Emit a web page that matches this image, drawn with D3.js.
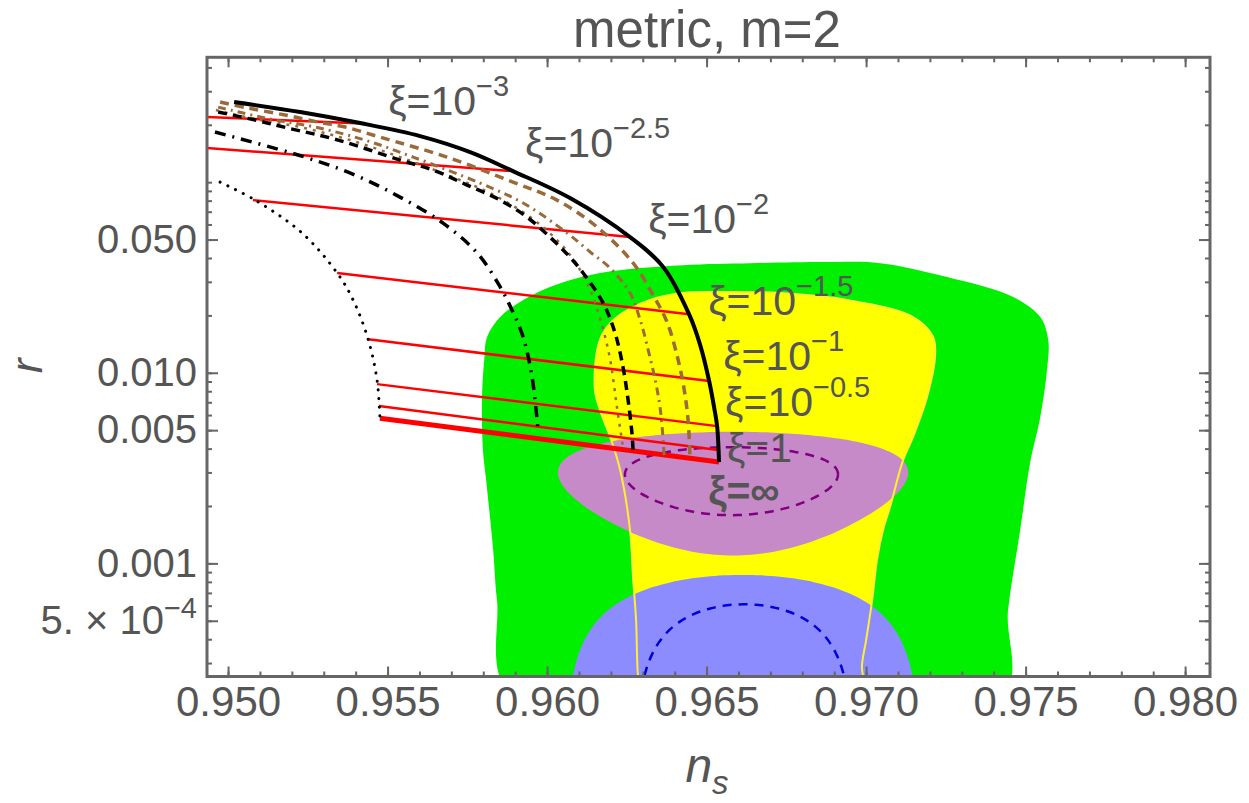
<!DOCTYPE html>
<html>
<head>
<meta charset="utf-8">
<script src="https://cdn.jsdelivr.net/npm/d3@7"></script>
<style>
body { margin: 0; background: #fff; }
text { font-family: "Liberation Sans", Arial, sans-serif; }
</style>
</head>
<body>
<svg id="chart" width="1249" height="803"></svg>
<script>
// constant-N curves (ns, r)
var dotNs = [0.94975, 0.95085, 0.95232, 0.95342, 0.95392, 0.95439, 0.95467, 0.95476];
var dotR  = [0.1001, 0.0805, 0.0541, 0.0334, 0.0241, 0.0150, 0.00916, 0.00578];

var dashDotNs = [0.94959, 0.95241, 0.95398, 0.95539, 0.95674, 0.95781, 0.95853, 0.95893, 0.95925, 0.95953, 0.95972];
var dashDotR  = [0.1832, 0.1354, 0.1090, 0.0835, 0.0610, 0.0425, 0.0282, 0.0208, 0.0154, 0.00949, 0.00494];

var dashNs = [0.94969, 0.95085, 0.95188, 0.95345, 0.95539, 0.95643, 0.95749, 0.95853, 0.95937, 0.96009, 0.96066, 0.96113, 0.96176, 0.96213, 0.96238, 0.96254, 0.96266, 0.96270];
var dashR  = [0.2333, 0.2118, 0.1922, 0.1663, 0.1306, 0.1157, 0.0966, 0.0805, 0.0656, 0.0515, 0.0414, 0.0334, 0.0232, 0.0162, 0.01071, 0.00719, 0.00483, 0.00384];

var brownDotNs = [0.94962, 0.95085, 0.95226, 0.95382, 0.95539, 0.95696, 0.95821, 0.95947, 0.96031, 0.96088, 0.96135, 0.96172, 0.96198, 0.96219, 0.96238];
var brownDotR  = [0.2389, 0.2143, 0.1946, 0.1663, 0.1354, 0.1076, 0.0877, 0.0656, 0.0497, 0.0381, 0.0272, 0.0178, 0.01166, 0.00661, 0.00408];

var brownDashDotNs = [0.94969, 0.95132, 0.95273, 0.95429, 0.95580, 0.95790, 0.95925, 0.96063, 0.96135, 0.96198, 0.96260, 0.96292, 0.96317, 0.96339, 0.96354, 0.96364, 0.96367];
var brownDashDotR  = [0.2477, 0.2143, 0.1946, 0.1663, 0.1354, 0.0989, 0.0777, 0.0541, 0.0430, 0.0354, 0.0262, 0.0189, 0.01315, 0.00916, 0.00661, 0.00443, 0.00366];

var brownDashNs = [0.94975, 0.95063, 0.95179, 0.95282, 0.95367, 0.95476, 0.95686, 0.95893, 0.96031, 0.96157, 0.96270, 0.96332, 0.96376, 0.96411, 0.96430, 0.96442, 0.96448];
var brownDashR  = [0.2632, 0.2447, 0.2250, 0.2067, 0.1946, 0.1724, 0.1354, 0.1001, 0.0805, 0.0581, 0.0376, 0.0256, 0.01845, 0.01166, 0.00811, 0.00565, 0.00361];

var solidNs = [0.95019, 0.95226, 0.95414, 0.95602, 0.95759, 0.95893, 0.96072, 0.96260, 0.96364, 0.96445, 0.96480, 0.96508, 0.96524, 0.96533, 0.96539];
var solidR  = [0.2632, 0.2333, 0.2042, 0.1745, 0.1438, 0.1143, 0.0825, 0.0515, 0.0359, 0.0203, 0.01397, 0.00905, 0.00653, 0.00525, 0.00340];

// constant-xi lines (from N=50 to N=60)
var xiBase = ["10", "10", "10", "10", "10", "10", "1", "\u221e"];
var xiSup  = ["\u22123", "\u22122.5", "\u22122", "\u22121.5", "\u22121", "\u22120.5", "", ""];
var xiLeftNs  = [0.9480, 0.9480, 0.95078, 0.95342, 0.95439, 0.95467, 0.95473, 0.95476];
var xiLeftR   = [0.2250, 0.1573, 0.0805, 0.0334, 0.0150, 0.00872, 0.00669, 0.00578];
var xiRightNs = [0.95420, 0.95893, 0.96260, 0.96445, 0.96508, 0.96533, 0.96536, 0.96539];
var xiRightR  = [0.2030, 0.1143, 0.0515, 0.0203, 0.00905, 0.00525, 0.00393, 0.00340];
var xiLabelNs = [0.95502, 0.95931, 0.96317, 0.96505, 0.96552, 0.96558, 0.96564, 0.96505];
var xiLabelR  = [0.2250, 0.1354, 0.0541, 0.02008, 0.01033, 0.00593, 0.00340, 0.00202];

// observational regions
var greenNs = [0.9589, 0.95843, 0.95831, 0.95809, 0.95799, 0.95796, 0.95803, 0.95812, 0.95853, 0.95915, 0.96009, 0.96166, 0.96426, 0.96636, 0.96887, 0.97044, 0.97254, 0.97461, 0.97546, 0.97571, 0.97567, 0.97546, 0.97514, 0.97483, 0.97445, 0.97425];
var greenR  = [0.0002, 0.000642, 0.001174, 0.002735, 0.00393, 0.00719, 0.01166, 0.0154, 0.0196, 0.0235, 0.0282, 0.0334, 0.0367, 0.0376, 0.0381, 0.0376, 0.0318, 0.0250, 0.0196, 0.01484, 0.01033, 0.00586, 0.00336, 0.001495, 0.000569, 0.0002];

var yellowNs = [0.96157, 0.96176, 0.96219, 0.96323, 0.96426, 0.96533, 0.96730, 0.96940, 0.97147, 0.97210, 0.97216, 0.97191, 0.97147, 0.97116, 0.97075, 0.97053, 0.97034, 0.97019, 0.97000, 0.96987, 0.96984, 0.96295, 0.96285, 0.96279, 0.96270, 0.96260, 0.96229, 0.96198, 0.96166, 0.96150];
var yellowR  = [0.01315, 0.0162, 0.0196, 0.0241, 0.0262, 0.0265, 0.0262, 0.0241, 0.0196, 0.0154, 0.01209, 0.00746, 0.0046, 0.00348, 0.001975, 0.001495, 0.00104, 0.000642, 0.000396, 0.000293, 0.0002, 0.0002, 0.000256, 0.000504, 0.000817, 0.001495, 0.00309, 0.0046, 0.00637, 0.00811];

// forecast ellipses: [centre ns, centre r, half width ns, half height r]
var purpleOuter = [0.96583, 0.0030, 0.00549, 0.0019];
var purpleInner = [0.96578, 0.00293, 0.00334, 0.00114];
var blueOuter   = [0.96613, 0.0, 0.00557, 0.00087];
var blueInner   = [0.96618, 0.0, 0.00345, 0.00061];

// ticks
var xMajor = [0.950, 0.955, 0.960, 0.965, 0.970, 0.975, 0.980];
var xTickLabels = ["0.950", "0.955", "0.960", "0.965", "0.970", "0.975", "0.980"];
var yMajor = [0.05, 0.01, 0.005, 0.001, 0.0005];
var yTickLabels = ["0.050", "0.010", "0.005", "0.001", "5. \u00d7 10"];

var zip = function (a, b) { return a.map(function (v, i) { return [v, b[i]]; }); };

var svg = d3.select("#chart");
var x = d3.scaleLinear().domain([0.94934, 0.98078]).range([207, 1210]);
var y = d3.scaleLog().domain([2.55e-4, 0.452]).range([676.5, 57.3]);

svg.append("defs").append("clipPath").attr("id", "plotclip")
  .append("rect").attr("x", 207).attr("y", 57.3).attr("width", 1003).attr("height", 619.2);

var plot = svg.append("g").attr("clip-path", "url(#plotclip)");

var smooth = d3.line().x(function (d) { return x(d[0]); }).y(function (d) { return y(Math.max(d[1], 1e-5)); })
  .curve(d3.curveCatmullRom.alpha(0.5));
var closedSmooth = d3.line().x(function (d) { return x(d[0]); }).y(function (d) { return y(d[1]); })
  .curve(d3.curveCatmullRomClosed.alpha(0.5));
var straight = d3.line().x(function (d) { return x(d[0]); }).y(function (d) { return y(d[1]); });

// ellipse outline in (ns, r)
function ellipse(e) {
  return d3.range(0, 361, 3).map(function (a) {
    var t = a * Math.PI / 180;
    return [e[0] + e[2] * Math.cos(t), Math.max(e[1] + e[3] * Math.sin(t), 1e-5)];
  });
}

plot.append("path").attr("d", closedSmooth(zip(greenNs, greenR))).attr("fill", "#00f000");
plot.append("path").attr("d", closedSmooth(zip(yellowNs, yellowR))).attr("fill", "#ffff00");
plot.append("path").attr("d", smooth(ellipse(purpleOuter)) + "Z").attr("fill", "#c68ac8");
plot.append("path").attr("d", smooth(ellipse(blueOuter)) + "Z").attr("fill", "#8c8cff");
plot.append("path").attr("d", closedSmooth(zip(yellowNs, yellowR)))
  .attr("fill", "none").attr("stroke", "#ffee33").attr("stroke-width", 2);
plot.append("path").attr("d", smooth(ellipse(purpleInner)))
  .attr("fill", "none").attr("stroke", "#800080").attr("stroke-width", 2.5).attr("stroke-dasharray", "9,7");
plot.append("path").attr("d", smooth(ellipse(blueInner)))
  .attr("fill", "none").attr("stroke", "#0000dd").attr("stroke-width", 2.5).attr("stroke-dasharray", "9,7");

// red constant-xi lines
xiLeftNs.forEach(function (v, i) {
  plot.append("path")
    .attr("d", straight([[v, xiLeftR[i]], [xiRightNs[i], xiRightR[i]]]))
    .attr("fill", "none").attr("stroke", "#ff0000")
    .attr("stroke-width", i === 7 ? 5 : 2.5);
});

var curves = [
  { ns: dotNs, r: dotR, color: "#000", w: 3, dash: "0.1,8.5", cap: "round" },
  { ns: dashDotNs, r: dashDotR, color: "#000", w: 3.5, dash: "11,7,2,7", cap: "butt" },
  { ns: brownDotNs, r: brownDotR, color: "#9a6a3a", w: 2.5, dash: "3,6", cap: "butt" },
  { ns: dashNs, r: dashR, color: "#000", w: 3.5, dash: "9,6", cap: "butt" },
  { ns: brownDashDotNs, r: brownDashDotR, color: "#9a6a3a", w: 3, dash: "8,5,2,5", cap: "butt" },
  { ns: brownDashNs, r: brownDashR, color: "#9a6a3a", w: 3.5, dash: "9,6", cap: "butt" },
  { ns: solidNs, r: solidR, color: "#000", w: 4, dash: null, cap: "butt" }
];
curves.forEach(function (c) {
  plot.append("path").attr("d", smooth(zip(c.ns, c.r)))
    .attr("fill", "none").attr("stroke", c.color).attr("stroke-width", c.w)
    .attr("stroke-dasharray", c.dash).attr("stroke-linecap", c.cap);
});

// xi labels
xiBase.forEach(function (b, i) {
  var t = svg.append("text").attr("x", x(xiLabelNs[i])).attr("y", y(xiLabelR[i]))
    .attr("fill", "#555").attr("font-size", 41)
    .attr("font-weight", i === 7 ? "bold" : "normal");
  t.append("tspan").text("\u03be=" + b);
  if (xiSup[i]) t.append("tspan").attr("dy", -19).attr("font-size", 29).text(xiSup[i]);
});

// frame and ticks
function styleAxis(g) {
  g.select(".domain").remove();
  g.selectAll(".tick line").attr("stroke", "#666").attr("stroke-width", 2);
  g.selectAll("text").attr("fill", "#555").attr("font-size", 40)
    .attr("font-family", "'Liberation Sans', Arial, sans-serif");
}
var xMinor = d3.range(0, 31).map(function (i) { return (950 + i) / 1000; });
var yMinor = [];
[1e-4, 1e-3, 1e-2, 1e-1].forEach(function (d) {
  d3.range(1, 10).forEach(function (k) {
    var v = k * d;
    if (v > 2.55e-4 && v < 0.452) yMinor.push(v);
  });
});

svg.append("g").attr("transform", "translate(0,676.5)")
  .call(d3.axisBottom(x).tickValues(xMinor).tickSize(-5).tickFormat("")).call(styleAxis);
var xAx = svg.append("g").attr("transform", "translate(0,676.5)")
  .call(d3.axisBottom(x).tickValues(xMajor).tickSize(-10).tickPadding(10)
    .tickFormat(function (d, i) { return xTickLabels[i]; })).call(styleAxis);
xAx.selectAll(".tick text").attr("font-size", 42);
svg.append("g").attr("transform", "translate(0,57.3)")
  .call(d3.axisTop(x).tickValues(xMinor).tickSize(-5).tickFormat("")).call(styleAxis);
svg.append("g").attr("transform", "translate(0,57.3)")
  .call(d3.axisTop(x).tickValues(xMajor).tickSize(-10).tickFormat("")).call(styleAxis);

svg.append("g").attr("transform", "translate(207,0)")
  .call(d3.axisLeft(y).tickValues(yMinor).tickSize(-5).tickFormat("")).call(styleAxis);
var yAx = svg.append("g").attr("transform", "translate(207,0)")
  .call(d3.axisLeft(y).tickValues(yMajor).tickSize(-11).tickPadding(10)
    .tickFormat(function (d, i) { return yTickLabels[i]; })).call(styleAxis);
yAx.selectAll(".tick text").filter(function (d, i) { return i === 4; })
  .append("tspan").attr("dy", -16).attr("font-size", 29).text("\u22124");
svg.append("g").attr("transform", "translate(1210,0)")
  .call(d3.axisRight(y).tickValues(yMinor).tickSize(-5).tickFormat("")).call(styleAxis);
svg.append("g").attr("transform", "translate(1210,0)")
  .call(d3.axisRight(y).tickValues(yMajor).tickSize(-11).tickFormat("")).call(styleAxis);

svg.append("rect").attr("x", 207).attr("y", 57.3).attr("width", 1003).attr("height", 619.2)
  .attr("fill", "none").attr("stroke", "#666").attr("stroke-width", 3);

// titles
svg.append("text").attr("x", 707).attr("y", 47).attr("text-anchor", "middle")
  .attr("fill", "#555").attr("font-size", 51).text("metric, m=2");
var xt = svg.append("text").attr("x", 707).attr("y", 782).attr("text-anchor", "middle")
  .attr("fill", "#555").attr("font-size", 48).attr("font-style", "italic");
xt.append("tspan").text("n");
xt.append("tspan").attr("dy", 12).attr("font-size", 33).text("s");
svg.append("text").attr("transform", "translate(42,366) rotate(-90)").attr("text-anchor", "middle")
  .attr("fill", "#555").attr("font-size", 44).attr("font-style", "italic").text("r");
</script>
</body>
</html>
